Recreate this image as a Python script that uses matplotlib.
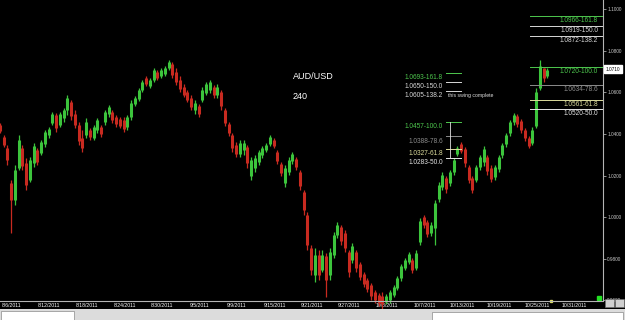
import matplotlib
matplotlib.use('Agg')
import matplotlib.pyplot as plt
import matplotlib.transforms as mtransforms
from matplotlib.patches import Rectangle

plt.rcParams['font.family'] = ['Liberation Sans', 'DejaVu Sans']

# AUD/USD, 4h chart, one bar per half day
opens = [
    1.0443, 1.0385, 1.0333, 1.0165, 1.0083, 1.0237, 1.0333, 1.0261, 1.0179, 1.0261,
    1.0323, 1.0309, 1.0352, 1.0395, 1.0453, 1.0491, 1.0443, 1.0477, 1.0515, 1.0553,
    1.0496, 1.0443, 1.0381, 1.0395, 1.0419, 1.0381, 1.0419, 1.0433, 1.0457, 1.0496,
    1.0505, 1.0481, 1.0472, 1.0467, 1.0433, 1.0481, 1.0544, 1.0568, 1.0611, 1.0669,
    1.0630, 1.0659, 1.0697, 1.0678, 1.0688, 1.0717, 1.0736, 1.0697, 1.0659, 1.0625,
    1.0601, 1.0573, 1.0515, 1.0534, 1.0563, 1.0597, 1.0611, 1.0625, 1.0587, 1.0601,
    1.0515, 1.0448, 1.0395, 1.0347, 1.0304, 1.0323, 1.0337, 1.0198, 1.0237, 1.0265,
    1.0299, 1.0323, 1.0352, 1.0371, 1.0313, 1.0256, 1.0165, 1.0217, 1.0270, 1.0280,
    1.0217, 1.0121, 1.0011, 0.9853, 0.9723, 0.9819, 0.9747, 0.9814, 0.9723, 0.9819,
    0.9915, 0.9953, 0.9925, 0.9833, 0.9795, 0.9833, 0.9776, 0.9728, 0.9699, 0.9675,
    0.9641, 0.9627, 0.9622, 0.9593, 0.9603, 0.9627, 0.9661, 0.9709, 0.9757, 0.9785,
    0.9795, 0.9757, 0.9881, 1.0001, 0.9977, 0.9925, 0.9949, 1.0088, 1.0145, 1.0189,
    1.0165, 1.0217, 1.0304, 1.0352, 1.0328, 1.0241, 1.0189, 1.0179, 1.0241, 1.0265,
    1.0289, 1.0237, 1.0193, 1.0232, 1.0299, 1.0352, 1.0405, 1.0457, 1.0486, 1.0462,
    1.0419, 1.0381, 1.0357, 1.0438, 1.0621, 1.0717, 1.0678,
]
highs = [
    1.0453, 1.0395, 1.0347, 1.0179, 1.0251, 1.0395, 1.0347, 1.0285, 1.0289, 1.0357,
    1.0333, 1.0371, 1.0419, 1.0433, 1.0505, 1.0501, 1.0505, 1.0525, 1.0587, 1.0563,
    1.0515, 1.0457, 1.0419, 1.0477, 1.0429, 1.0443, 1.0477, 1.0443, 1.0515, 1.0539,
    1.0515, 1.0491, 1.0481, 1.0481, 1.0491, 1.0563, 1.0583, 1.0621, 1.0659, 1.0678,
    1.0669, 1.0717, 1.0707, 1.0717, 1.0726, 1.0755, 1.0745, 1.0717, 1.0678, 1.0640,
    1.0611, 1.0587, 1.0563, 1.0544, 1.0625, 1.0649, 1.0659, 1.0635, 1.0640, 1.0611,
    1.0525, 1.0457, 1.0405, 1.0361, 1.0371, 1.0371, 1.0347, 1.0289, 1.0299, 1.0323,
    1.0342, 1.0357, 1.0395, 1.0381, 1.0323, 1.0265, 1.0251, 1.0289, 1.0313, 1.0289,
    1.0227, 1.0131, 1.0025, 0.9867, 0.9853, 0.9843, 0.9843, 0.9829, 0.9853, 0.9929,
    0.9977, 0.9963, 0.9939, 0.9843, 0.9877, 0.9843, 0.9785, 0.9737, 0.9709, 0.9685,
    0.9651, 0.9637, 0.9641, 0.9632, 0.9651, 0.9675, 0.9718, 0.9776, 0.9805, 0.9833,
    0.9805, 0.9843, 0.9997, 1.0011, 0.9987, 0.9977, 1.0083, 1.0169, 1.0217, 1.0198,
    1.0227, 1.0285, 1.0342, 1.0361, 1.0337, 1.0251, 1.0198, 1.0251, 1.0299, 1.0342,
    1.0299, 1.0251, 1.0251, 1.0299, 1.0357, 1.0405, 1.0467, 1.0501, 1.0496, 1.0472,
    1.0429, 1.0390, 1.0433, 1.0621, 1.0755, 1.0717, 1.0717,
]
lows = [
    1.0405, 1.0337, 1.0251, 0.9925, 1.0059, 1.0227, 1.0227, 1.0131, 1.0169, 1.0241,
    1.0251, 1.0299, 1.0337, 1.0381, 1.0443, 1.0409, 1.0433, 1.0457, 1.0491, 1.0467,
    1.0429, 1.0347, 1.0313, 1.0381, 1.0371, 1.0371, 1.0405, 1.0385, 1.0443, 1.0481,
    1.0453, 1.0433, 1.0429, 1.0409, 1.0419, 1.0467, 1.0534, 1.0558, 1.0601, 1.0630,
    1.0621, 1.0649, 1.0659, 1.0669, 1.0678, 1.0707, 1.0669, 1.0635, 1.0601, 1.0578,
    1.0553, 1.0515, 1.0496, 1.0481, 1.0553, 1.0587, 1.0597, 1.0573, 1.0573, 1.0515,
    1.0438, 1.0390, 1.0313, 1.0289, 1.0289, 1.0299, 1.0237, 1.0179, 1.0217, 1.0251,
    1.0285, 1.0313, 1.0342, 1.0333, 1.0256, 1.0198, 1.0145, 1.0203, 1.0256, 1.0227,
    1.0131, 1.0011, 0.9843, 0.9723, 0.9689, 0.9699, 0.9737, 0.9617, 0.9699, 0.9805,
    0.9901, 0.9867, 0.9833, 0.9713, 0.9781, 0.9737, 0.9699, 0.9665, 0.9641, 0.9603,
    0.9589, 0.9574, 0.9555, 0.9584, 0.9589, 0.9617, 0.9651, 0.9694, 0.9747, 0.9776,
    0.9733, 0.9747, 0.9867, 0.9949, 0.9905, 0.9910, 0.9867, 1.0073, 1.0131, 1.0117,
    1.0150, 1.0203, 1.0294, 1.0309, 1.0241, 1.0165, 1.0117, 1.0169, 1.0227, 1.0246,
    1.0203, 1.0169, 1.0179, 1.0217, 1.0285, 1.0337, 1.0390, 1.0443, 1.0433, 1.0405,
    1.0366, 1.0333, 1.0347, 1.0429, 1.0611, 1.0649, 1.0669,
]
closes = [
    1.0414, 1.0347, 1.0275, 1.0083, 1.0227, 1.0371, 1.0246, 1.0155, 1.0275, 1.0342,
    1.0265, 1.0361, 1.0409, 1.0424, 1.0496, 1.0429, 1.0496, 1.0515, 1.0573, 1.0486,
    1.0443, 1.0366, 1.0333, 1.0457, 1.0385, 1.0433, 1.0467, 1.0400, 1.0505, 1.0529,
    1.0467, 1.0448, 1.0438, 1.0424, 1.0481, 1.0549, 1.0573, 1.0611, 1.0649, 1.0640,
    1.0659, 1.0707, 1.0669, 1.0707, 1.0717, 1.0745, 1.0683, 1.0649, 1.0616, 1.0587,
    1.0563, 1.0529, 1.0549, 1.0496, 1.0611, 1.0640, 1.0649, 1.0587, 1.0625, 1.0534,
    1.0453, 1.0405, 1.0333, 1.0304, 1.0357, 1.0357, 1.0261, 1.0275, 1.0285, 1.0313,
    1.0333, 1.0347, 1.0385, 1.0342, 1.0270, 1.0213, 1.0237, 1.0275, 1.0304, 1.0241,
    1.0150, 1.0035, 0.9867, 0.9747, 0.9819, 0.9723, 0.9819, 0.9699, 0.9833, 0.9915,
    0.9963, 0.9886, 0.9853, 0.9737, 0.9862, 0.9757, 0.9713, 0.9680, 0.9656, 0.9622,
    0.9603, 0.9589, 0.9584, 0.9622, 0.9641, 0.9665, 0.9709, 0.9766, 0.9795, 0.9824,
    0.9747, 0.9829, 0.9982, 0.9963, 0.9920, 0.9963, 1.0069, 1.0155, 1.0203, 1.0136,
    1.0217, 1.0275, 1.0333, 1.0318, 1.0261, 1.0179, 1.0131, 1.0241, 1.0289, 1.0328,
    1.0222, 1.0184, 1.0241, 1.0289, 1.0347, 1.0395, 1.0457, 1.0491, 1.0448, 1.0419,
    1.0381, 1.0342, 1.0419, 1.0601, 1.0726, 1.0669, 1.0707,
]

date_labels = ['8/6/2011', '8/12/2011', '8/18/2011', '8/24/2011', '8/30/2011',
               '9/5/2011', '9/9/2011', '9/15/2011', '9/21/2011', '9/27/2011',
               '10/3/2011', '10/7/2011', '10/13/2011', '10/19/2011', '10/25/2011',
               '10/31/2011']
price_ticks = [0.96, 0.98, 1.00, 1.02, 1.04, 1.06, 1.08, 1.10]
last_price = 1.0710

fib_pcts = ['161.8', '150.0', '138.2', '100.0', '78.6', '61.8', '50.0']
fib_right = [1.0966, 1.0919, 1.0872, 1.0720, 1.0634, 1.0561, 1.0520]
fib_left = [1.0693, 1.0650, 1.0605, 1.0457, 1.0388, 1.0327, 1.0283]

GREEN = '#3cc43c'
RED = '#c82a20'
fib_colors = {'161.8': '#4ec84e', '150.0': '#d8d8d8', '138.2': '#d8d8d8',
              '100.0': '#4ec84e', '78.6': '#8c8c8c', '61.8': '#dcdc9c',
              '50.0': '#e6e6e6'}

fig = plt.figure(figsize=(6.25, 3.2), dpi=100, facecolor='black')
ax = fig.add_axes([0, 19.5 / 320, 603 / 625, 300.5 / 320])
ax.set_facecolor('black')

for i, (o, h, l, c) in enumerate(zip(opens, highs, lows, closes)):
    col = GREEN if c >= o else RED
    ax.vlines(i, l, h, color=col, lw=0.9, clip_on=False)
    ax.vlines(i, min(o, c), max(o, c), color=col, lw=2.2, clip_on=False)

ax.set_xlim(0, 160.8)
ax.set_ylim(0.9600, 1.1043)

# right fib group
for lvl, pct in zip(fib_right, fib_pcts):
    col = fib_colors[pct]
    ax.plot([141.3, 160.8], [lvl, lvl], color=col, lw=0.7)
    ax.annotate(f'{lvl:.4f}-{pct}', (159.5, lvl), xytext=(0, -0.8),
                textcoords='offset points', ha='right', va='top',
                fontsize=4.7, color=col)

# left fib group
for lvl, pct in zip(fib_left, fib_pcts):
    col = fib_colors[pct]
    ax.plot([118.9, 122.9], [lvl, lvl], color=col, lw=0.7)
    ax.annotate(f'{lvl:.4f}-{pct}', (118.1, lvl), xytext=(0, -0.8),
                textcoords='offset points', ha='right', va='top',
                fontsize=4.7, color=col)
ax.plot([120, 120], [fib_left[3], fib_left[6]], color='#e0e0e0', lw=0.6)
ax.annotate('this swing complete', (119.5, fib_left[2]), xytext=(0, -1.2),
            textcoords='offset points', ha='left', va='top',
            fontsize=3.7, color='#e0e0e0')

ax.text(0.486, 0.745, 'AUD/USD', transform=ax.transAxes, color='white',
        fontsize=6.5, ha='left', va='center')
ax.text(0.486, 0.679, '240', transform=ax.transAxes, color='white',
        fontsize=6.5, ha='left', va='center')

# axes styling
for s in ['top', 'left']:
    ax.spines[s].set_visible(False)
for s in ['right', 'bottom']:
    ax.spines[s].set_color('#b4b4b4')
    ax.spines[s].set_linewidth(0.8)

ax.yaxis.tick_right()
ax.set_yticks(price_ticks)
ax.set_yticklabels([f'{v:.4f}' for v in price_ticks])
ax.tick_params(axis='y', colors='#c8c8c8', labelsize=3.4, length=2,
               width=0.5, pad=1)
ax.set_xticks([3.2 + 10 * k for k in range(len(date_labels))])
ax.set_xticklabels(date_labels)
ax.tick_params(axis='x', colors='white', labelsize=3.7, length=0, pad=1.5)

trans = mtransforms.blended_transform_factory(ax.transAxes, ax.transData)
ax.text(1.004, last_price, f'{last_price:.4f}', transform=trans, fontsize=3.4,
        color='black', ha='left', va='center',
        bbox=dict(boxstyle='square,pad=0.35', fc='white', ec='white'))

# small chart widgets
ax.plot(0.9935, 0.008, 's', color='#22e022', ms=3.2, transform=ax.transAxes,
        clip_on=False)
ax.plot(0.914, 0.0, 's', color='#e0e060', ms=1.4, transform=ax.transAxes,
        clip_on=False)

# bottom status strip
fig.patches.append(Rectangle((0, 0), 1, 11 / 320, transform=fig.transFigure,
                             fc='#dcdcdc', ec='none', zorder=0))
fig.patches.append(Rectangle((0.002, 0), 0.116, 9 / 320,
                             transform=fig.transFigure, fc='white',
                             ec='#8a8a8a', lw=0.5))
fig.patches.append(Rectangle((0.691, 0), 0.305, 8 / 320,
                             transform=fig.transFigure, fc='white',
                             ec='#8a8a8a', lw=0.5))
for x0 in [0.968, 0.984]:
    fig.patches.append(Rectangle((x0, 13 / 320), 0.014, 8 / 320,
                                 transform=fig.transFigure, fc='#d0d0d0',
                                 ec='#707070', lw=0.4))

fig.savefig('out.png', dpi=100, facecolor='black')
